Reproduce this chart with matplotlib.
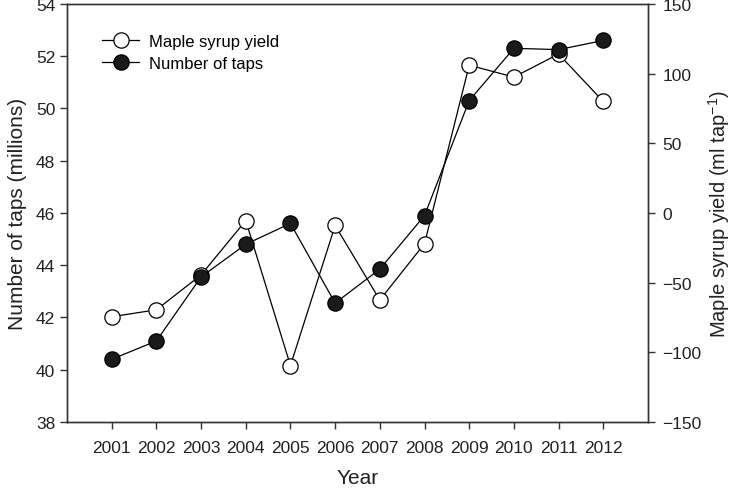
import matplotlib
matplotlib.use('Agg')
import matplotlib.pyplot as plt

years = list(range(2001, 2013))
taps = [40.4, 41.1, 43.55, 44.8, 45.6, 42.55, 43.85, 45.9, 50.3, 52.3, 52.25, 52.6]
yield_ml = [-74.5, -69.5, -44.5, -5.5, -109.5, -9, -62.5, -22, 106, 97.5, 114, 80]

plt.rcParams['font.family'] = ['Liberation Sans', 'DejaVu Sans']
plt.rcParams['font.size'] = 12
plt.rcParams['mathtext.default'] = 'regular'

fig = plt.figure(figsize=(7.33, 4.89), dpi=100)
ax = fig.add_axes([0.0914, 0.135, 0.7926, 0.855])
ax2 = ax.twinx()

l2, = ax2.plot(years, yield_ml, color='black', lw=0.9, marker='o', ms=11,
               mfc='white', mec='black', mew=0.9, label='Maple syrup yield')
l1, = ax.plot(years, taps, color='black', lw=0.9, marker='o', ms=11,
              mfc='#1a1a1a', mec='black', mew=0.9, label='Number of taps')
ax.set_zorder(ax2.get_zorder() + 1)
ax.patch.set_visible(False)

ax.set_xlim(2000, 2013)
ax.set_ylim(38, 54)
ax.set_yticks(range(38, 55, 2))
ax.set_xticks(years)
ax2.set_ylim(-150, 150)
ax2.set_yticks(range(-150, 151, 50))

for a in (ax, ax2):
    for s in a.spines.values():
        s.set_color('#333333')
        s.set_linewidth(1.0)
    a.tick_params(direction='out', length=5, width=1.0, color='#333333',
                  labelsize=12.5, labelcolor='#222222')
ax.tick_params(axis='x', pad=8)
ax.tick_params(axis='y', pad=3.5)
ax2.tick_params(axis='y', pad=5.5)

ax.set_xlabel('Year', fontsize=15, labelpad=9, color='#222222')
ax.set_ylabel('Number of taps (millions)', fontsize=15, labelpad=6, color='#222222')
ax2.set_ylabel('Maple syrup yield (ml tap$^{-1}$)', fontsize=14.5, labelpad=3,
               color='#222222')

ax.legend([l2, l1], ['Maple syrup yield', 'Number of taps'], loc='upper left',
          frameon=False, fontsize=12, bbox_to_anchor=(0.035, 0.965),
          handlelength=2.2, handletextpad=0.6, labelspacing=0.45)

plt.savefig('out.png', dpi=100)
